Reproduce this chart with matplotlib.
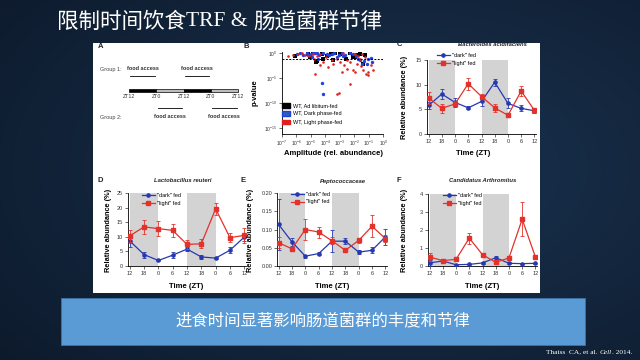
import numpy as np
import matplotlib
matplotlib.use('Agg')
import matplotlib.pyplot as plt
from matplotlib.patches import Rectangle, Patch
from matplotlib.lines import Line2D
from matplotlib.ticker import FixedLocator, NullLocator

plt.rcParams['font.family'] = ['Liberation Sans', 'DejaVu Sans']
plt.rcParams['mathtext.fontset'] = 'custom'
plt.rcParams['mathtext.rm'] = 'Liberation Sans'
plt.rcParams['mathtext.it'] = 'Liberation Sans:italic'
plt.rcParams['mathtext.bf'] = 'Liberation Sans:bold'

# ---------------- data ----------------
zt_labels = ['12', '18', '0', '6', '12', '18', '0', '6', '12']

C_dark = [5.8, 8.1, 6.4, 5.3, 6.6, 10.5, 6.2, 5.2, 4.7]
C_dark_err = [0.7, 1.0, 0.9, 0.3, 0.9, 0.7, 1.0, 0.6, 0.5]
C_light = [7.3, 5.2, 6.1, 10.2, 7.6, 5.3, 3.8, 8.7, 4.8]
C_light_err = [1.2, 0.9, 0.5, 1.2, 0.5, 0.8, 0.3, 1.0, 0.5]

D_dark = [8.6, 3.9, 1.9, 3.7, 5.8, 3.1, 2.7, 5.4, 9.9]
D_dark_err = [2.0, 1.0, 0.3, 1.0, 0.6, 0.6, 0.3, 1.0, 1.5]
D_light = [10.3, 13.4, 12.8, 12.2, 7.4, 7.6, 19.6, 9.7, 10.5]
D_light_err = [2.0, 2.5, 2.5, 2.3, 1.5, 1.5, 2.0, 1.5, 2.5]

E_dark = [0.114, 0.066, 0.027, 0.034, 0.068, 0.068, 0.038, 0.043, 0.080]
E_dark_err = [0.070, 0.010, 0.004, 0.004, 0.030, 0.008, 0.005, 0.008, 0.022]
E_light = [0.064, 0.047, 0.100, 0.093, 0.069, 0.043, 0.070, 0.109, 0.075]
E_light_err = [0.015, 0.005, 0.030, 0.015, 0.010, 0.005, 0.008, 0.030, 0.010]

F_dark = [0.17, 0.28, 0.07, 0.09, 0.17, 0.46, 0.15, 0.13, 0.15]
F_dark_err = [0.15, 0.05, 0.03, 0.03, 0.05, 0.10, 0.05, 0.03, 0.03]
F_light = [0.50, 0.30, 0.37, 1.55, 0.63, 0.20, 0.45, 2.60, 0.50]
F_light_err = [0.20, 0.05, 0.10, 0.30, 0.10, 0.05, 0.05, 0.95, 0.05]

# panel B: log10(amplitude), log10(p-value)
B_adlib_amp = [-6.08, -5.17, -4.82, -4.59, -4.25, -3.86, -3.63, -3.33, -2.99, -2.57, -2.11,
               -1.95, -1.79, -1.38, -4.64, -5.05, -3.44, -1.61, -1.27, -2.30, -4.13]
B_adlib_p = [-0.66, -0.20, -0.07, -1.64, -0.20, -0.72, -0.33, -0.02, -0.20, -1.18, -0.86,
             -0.86, -0.53, -2.17, -1.84, -0.86, -1.51, -0.33, -0.53, -0.02, -1.18]
B_dark_amp = [-5.97, -5.74, -5.51, -5.28, -5.00, -4.71, -4.55, -4.41, -4.13, -3.90, -3.72,
              -3.40, -3.03, -2.87, -2.64, -2.30, -2.07, -1.89, -1.72, -1.61, -1.33, -1.15,
              -1.04, -0.88, -0.81, -1.50, -4.94, -4.25, -4.13, -3.56, -3.22, -2.76, -4.82,
              -4.48, -5.17]
B_dark_p = [-0.20, -0.02, -0.53, -0.07, -0.33, -0.01, -0.07, -0.53, -0.07, -0.20, -0.53,
            -0.07, -0.39, -0.07, -0.53, -0.07, -0.33, -0.72, -1.18, -1.51, -1.64, -2.17,
            -1.18, -0.99, -1.84, -2.30, -0.86, -5.99, -8.22, -0.33, -0.86, -0.72, -0.07,
            -1.18, -0.53]
B_light_amp = [-6.54, -6.20, -5.85, -5.62, -5.39, -5.10, -4.87, -4.78, -4.55, -4.36, -3.95,
               -3.81, -3.56, -3.22, -2.99, -2.71, -2.53, -2.30, -2.07, -1.98, -1.84, -1.56,
               -1.38, -1.20, -1.04, -0.88, -2.30, -3.22, -3.03, -2.53, -2.87, -1.72, -1.50,
               -1.27, -4.36, -4.71, -4.18, -3.44, -2.76, -1.95, -1.61, -1.04, -0.69]
B_light_p = [-0.66, -0.53, -0.20, -0.07, -0.39, -0.66, -0.20, -1.18, -0.72, -0.33, -0.86,
             -2.83, -1.51, -1.32, -1.84, -2.50, -1.51, -1.84, -3.36, -3.82, -2.17, -2.70,
             -3.49, -4.14, -4.47, -2.50, -6.12, -8.22, -7.96, -3.16, -3.82, -0.72, -0.33,
             -0.86, -2.50, -4.14, -1.84, -2.30, -0.07, -0.20, -1.18, -3.82, -3.49]

A_zt_labels = ['ZT12', 'ZT0', 'ZT12', 'ZT0', 'ZT12']
A_phase_colors = ['black', '#bdbdbd', 'black', '#bdbdbd']
A_group1_access = [0, 2]
A_group2_access = [1, 3]

BLUE = '#2639b0'
RED = '#e3322b'
SHADE = '#d3d3d3'

W, H = 640, 360
fig = plt.figure(figsize=(6.4, 3.6), dpi=100)


def fx(x):
    return x / W


def fy(y):
    return 1 - y / H


def frect(x0, y0, x1, y1):
    return [x0 / W, 1 - y1 / H, (x1 - x0) / W, (y1 - y0) / H]


# ---------------- background ----------------
bg = fig.add_axes([0, 0, 1, 1])
bg.set_xlim(0, W)
bg.set_ylim(H, 0)
bg.axis('off')
yy, xx = np.mgrid[0:H:1.0, 0:W:1.0]
r = np.clip(np.sqrt(((xx - 400) / 560) ** 2 + ((yy - 170) / 330) ** 2), 0, 1)
c_in = np.array([0x1a, 0x33, 0x50]) / 255
c_out = np.array([0x0c, 0x18, 0x29]) / 255
img = c_in[None, None, :] * (1 - r[..., None]) + c_out[None, None, :] * r[..., None]
bg.imshow(img, extent=(0, W, H, 0), aspect='auto', zorder=0)
bg.add_patch(Rectangle((93, 43), 447, 250, facecolor='white', edgecolor='none', zorder=1))
bg.add_patch(Rectangle((61, 298), 524, 47, facecolor='#5b9bd5', edgecolor='#3d73a8',
                       lw=0.6, zorder=1))

renderer = fig.canvas.get_renderer()


def put_seq(x, y, pieces, **kw):
    for text, props in pieces:
        t = bg.text(x, y, text, va='center', ha='left', zorder=5, **props, **kw)
        bb = t.get_window_extent(renderer=renderer)
        x += bb.width


CJK = ['Noto Sans CJK SC', 'DejaVu Sans']
SERIF = ['Liberation Serif', 'DejaVu Serif']
put_seq(57, 22, [('限制时间饮食', dict(family=CJK)),
                 ('TRF & ', dict(family=SERIF)),
                 ('肠道菌群节律', dict(family=CJK))], color='white', fontsize=15.5)

bg.text(323, 321, '进食时间显著影响肠道菌群的丰度和节律', family=CJK, color='white',
        fontsize=11.8, ha='center', va='center', zorder=5)

put_seq(546, 352, [('Thaiss  CA, et al. ', dict(family=SERIF)),
                   ('Cell', dict(family=SERIF, style='italic')),
                   ('. 2014.', dict(family=SERIF))], color='white', fontsize=5.3)

# ---------------- panel A ----------------
axA = fig.add_axes(frect(93, 43, 250, 170), facecolor='none')
axA.set_xlim(-(129 - 93) / 27.25, 4 + (250 - 238) / 27.25)
axA.set_ylim(170, 43)
axA.axis('off')
for i, c in enumerate(A_phase_colors):
    axA.add_patch(Rectangle((i, 88.5), 1, 3, facecolor=c, edgecolor='black', lw=0.5))
for i, lab in enumerate(A_zt_labels):
    axA.text(i, 96.5, lab, ha='center', va='center', fontsize=3.8, color='#333333')
axA.text(-1.05, 69, 'Group 1: ', ha='left', va='center', fontsize=4, color='#444444')
axA.text(-1.05, 117, 'Group 2:', ha='left', va='center', fontsize=4, color='#444444')
for i in A_group1_access:
    axA.plot([i + 0.05, i + 0.95], [76, 76], color='black', lw=0.6)
    axA.text(i + 0.5, 69, 'food access', ha='center', va='center', fontsize=4,
             fontweight='bold', color='#333333')
for i in A_group2_access:
    axA.plot([i + 0.05, i + 0.95], [108, 108], color='black', lw=0.6)
    axA.text(i + 0.5, 117, 'food access', ha='center', va='center', fontsize=4,
             fontweight='bold', color='#333333')

# ---------------- panel B ----------------
axB = fig.add_axes(frect(281.7, 52, 383.3, 133.5), facecolor='none')
axB.set_xscale('log')
axB.set_yscale('log')
axB.scatter(10 ** np.array(B_adlib_amp), 10 ** np.array(B_adlib_p), s=6, c='black',
            marker='s', lw=0, zorder=3)
axB.scatter(10 ** np.array(B_dark_amp), 10 ** np.array(B_dark_p), s=6, c='#2040e0',
            marker='o', lw=0, zorder=3)
axB.scatter(10 ** np.array(B_light_amp), 10 ** np.array(B_light_p), s=3.5, c='#e02020',
            marker='o', lw=0, zorder=4)
axB.axhline(0.05, color='black', lw=0.7, ls=(0, (2, 1.5)), zorder=5)
axB.set_xlim(1e-7, 1e0)
axB.set_ylim(1e-16, 10 ** 0.15)
axB.xaxis.set_major_locator(FixedLocator([10.0 ** k for k in range(-7, 1)]))
axB.xaxis.set_minor_locator(NullLocator())
axB.yaxis.set_major_locator(FixedLocator([1e-15, 1e-10, 1e-5, 1e0]))
axB.yaxis.set_minor_locator(NullLocator())
for s in ['top', 'right']:
    axB.spines[s].set_visible(False)
for s in ['left', 'bottom']:
    axB.spines[s].set_linewidth(0.6)
axB.tick_params(labelsize=3.5, length=2, width=0.5, pad=1.5, colors='#333333')
axB.set_ylabel('p-value', fontsize=5.5, fontweight='bold', va='center')
axB.yaxis.set_label_coords(fx(255), fy(93), transform=fig.transFigure)
axB.set_xlabel('Amplitude (rel. abundance)', fontsize=5.5, fontweight='bold', va='center')
axB.xaxis.set_label_coords(fx(333), fy(153), transform=fig.transFigure)
legB = axB.legend(handles=[Patch(facecolor='black', edgecolor='black', label='WT, Ad libitum-fed'),
                           Patch(facecolor='#2a5fb8', edgecolor='#2040e0', label='WT, Dark phase-fed'),
                           Patch(facecolor='#e02020', edgecolor='#e02020', label='WT, Light phase-fed')],
                  loc='upper left', bbox_to_anchor=(fx(282), fy(103)),
                  bbox_transform=fig.transFigure, fontsize=4, frameon=False, borderpad=0,
                  borderaxespad=0, handlelength=1.5, handleheight=0.9, labelspacing=0.55,
                  handletextpad=0.4)


# ---------------- panels C-F ----------------
def abundance_panel(rect_px, dark, dark_err, light, light_err, yticks, yticklabels,
                    ylab_xy, xlab_xy, leg_xy):
    ax = fig.add_axes(frect(*rect_px), facecolor='none')
    x = np.arange(len(zt_labels))
    ax.axvspan(0, 2, color=SHADE, lw=0, zorder=0)
    ax.axvspan(4, 6, color=SHADE, lw=0, zorder=0)
    ax.errorbar(x, dark, yerr=dark_err, color=BLUE, marker='o', ms=2.3, lw=0.9,
                capsize=1.2, elinewidth=0.6, capthick=0.6, zorder=3)
    ax.errorbar(x, light, yerr=light_err, color=RED, marker='s', ms=2.3, lw=0.9,
                capsize=1.2, elinewidth=0.6, capthick=0.6, zorder=4)
    ax.set_xlim(-0.12, 8.12)
    ax.set_ylim(0, yticks[-1])
    ax.set_xticks(x)
    ax.set_xticklabels(zt_labels)
    ax.set_yticks(yticks)
    ax.set_yticklabels(yticklabels)
    for s in ['top', 'right']:
        ax.spines[s].set_visible(False)
    for s in ['left', 'bottom']:
        ax.spines[s].set_linewidth(0.6)
    ax.tick_params(labelsize=4, length=2, width=0.5, pad=1.5, colors='#333333')
    ax.set_ylabel('Relative abundance (%)', fontsize=5.3, fontweight='bold', va='center')
    ax.yaxis.set_label_coords(fx(ylab_xy[0]), fy(ylab_xy[1]), transform=fig.transFigure)
    ax.set_xlabel('Time (ZT)', fontsize=5.5, fontweight='bold', va='center')
    ax.xaxis.set_label_coords(fx(xlab_xy[0]), fy(xlab_xy[1]), transform=fig.transFigure)
    handles = [Line2D([], [], color=BLUE, marker='o', ms=2.3, lw=0.9, label='"dark" fed'),
               Line2D([], [], color=RED, marker='s', ms=2.3, lw=0.9, label='"light" fed')]
    ax.legend(handles=handles, loc='upper left', bbox_to_anchor=(fx(leg_xy[0]), fy(leg_xy[1])),
              bbox_transform=fig.transFigure, fontsize=4, frameon=False, borderpad=0,
              borderaxespad=0, handlelength=2.3, handletextpad=0.4, labelspacing=0.45)
    return ax


abundance_panel((427, 60, 536, 134), C_dark, C_dark_err, C_light, C_light_err,
                [0, 5, 10, 15], ['0', '5', '10', '15'], (404, 97), (473, 153), (437, 53))
abundance_panel((128, 193, 246, 266), D_dark, D_dark_err, D_light, D_light_err,
                [0, 5, 10, 15, 20, 25], ['0', '5', '10', '15', '20', '25'],
                (108, 230), (186, 287), (142, 193))
abundance_panel((277, 193, 387, 266), E_dark, E_dark_err, E_light, E_light_err,
                [0, 0.05, 0.10, 0.15, 0.20], ['0.00', '0.05', '0.10', '0.15', '0.20'],
                (250, 230), (332, 287), (291, 192))
abundance_panel((428, 194, 537, 266), F_dark, F_dark_err, F_light, F_light_err,
                [0, 1, 2, 3, 4], ['0', '1', '2', '3', '4'],
                (405, 230), (482, 287), (443, 193))

# panel letters and titles
for letter, (lx, ly) in zip('ABCDEF', [(101, 47), (246, 47), (399, 45), (100, 180),
                                         (243, 180), (399, 180)]):
    bg.text(lx, ly, letter, fontsize=5.5, fontweight='bold', ha='center', va='center',
            color='#222222', zorder=5)
for title, (tx, ty) in zip(['Bacteroides acidifaciens', 'Lactobacillus reuteri',
                            'Peptococcaceae', 'Candidatus Arthromitus'],
                           [(492, 45), (183, 180), (343, 181), (483, 180)]):
    bg.text(tx, ty, title, fontsize=4.2, fontweight='bold', style='italic', ha='center',
            va='center', color='#222222', zorder=5)

fig.savefig('out.png', dpi=100)
